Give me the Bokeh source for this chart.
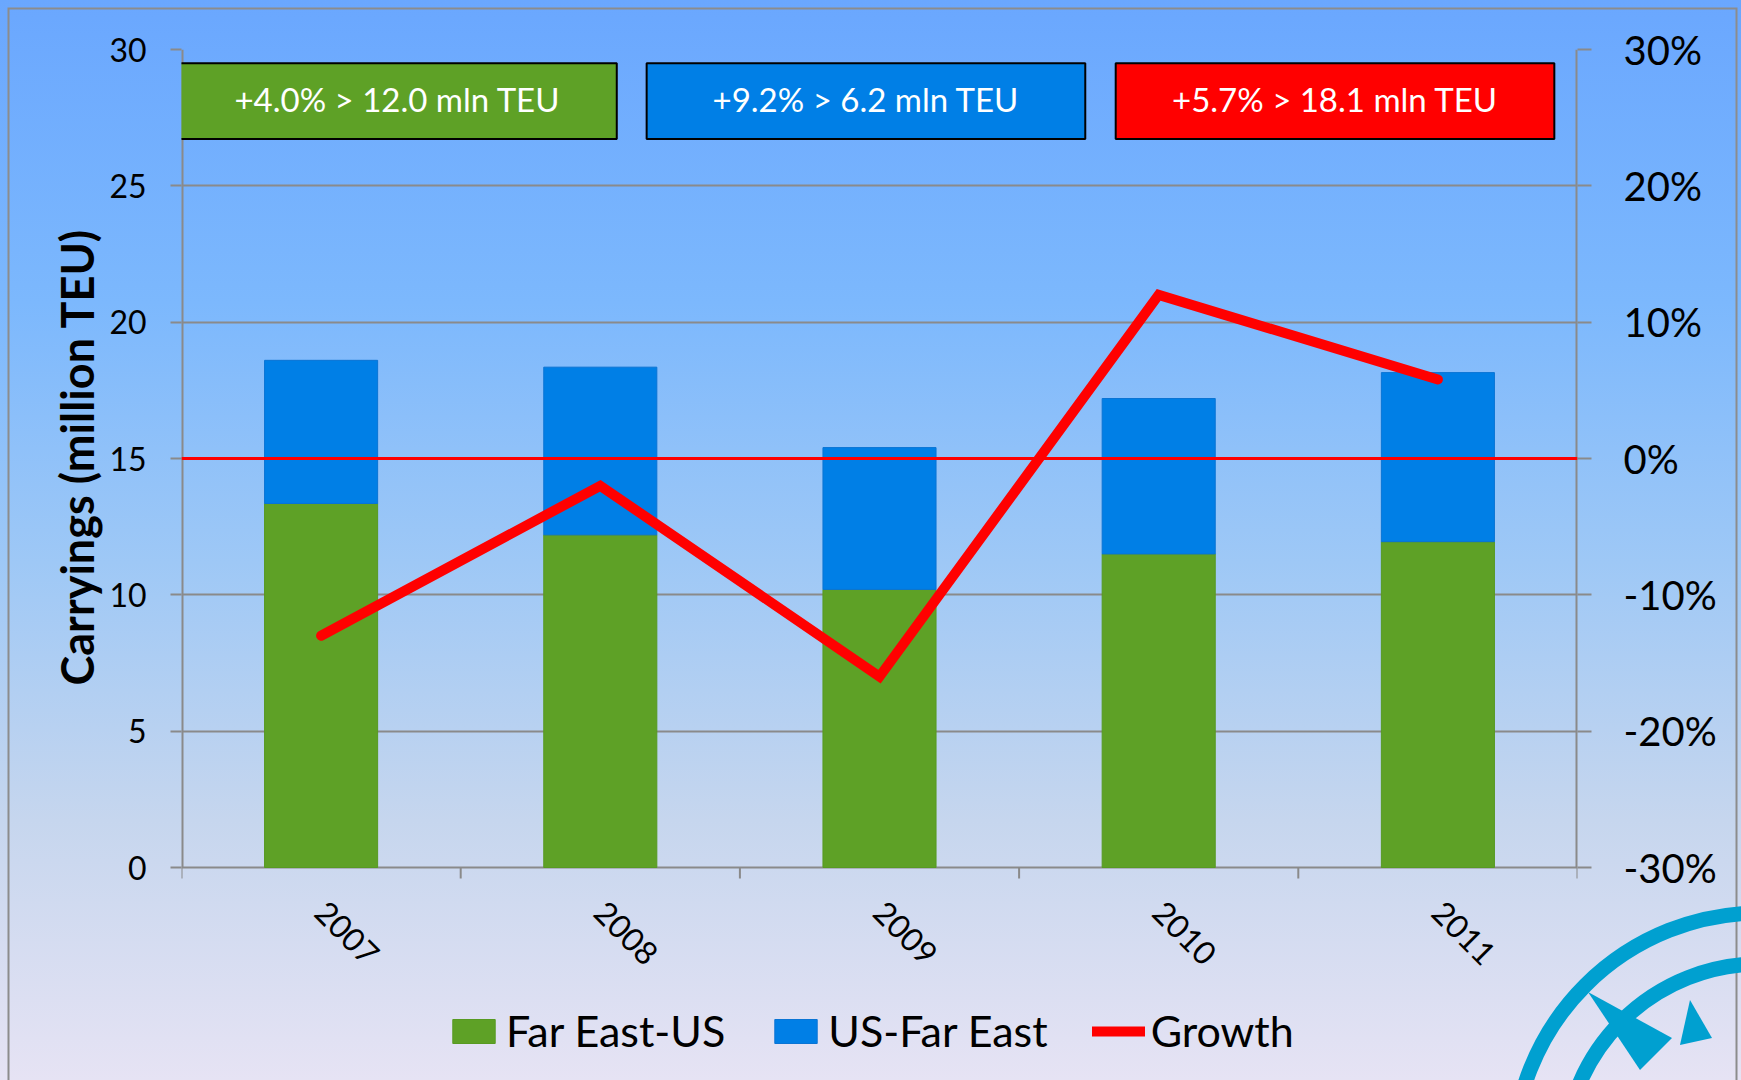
import math
from urllib.parse import quote
from bokeh.plotting import figure
from bokeh.models import (Range1d, LinearAxis, FixedTicker, PrintfTickFormatter, Span,
                          Legend, LegendItem, ColumnDataSource, Title)
from bokeh.core.properties import value
from bokeh.embed import file_html
from bokeh.resources import INLINE

# ---------------- data ----------------
years = ["2007", "2008", "2009", "2010", "2011"]
far_east_us = [13.35, 12.2, 10.2, 11.5, 11.95]   # million TEU
us_far_east = [5.25, 6.15, 5.2, 5.7, 6.2]        # million TEU
growth = [-13.0, -2.0, -16.0, 12.0, 5.8]         # % growth of total
series_names = ["Far East-US", "US-Far East", "Growth"]
y_title = "Carryings (million TEU)"
box_texts = ["+4.0% > 12.0 mln TEU", "+9.2% > 6.2 mln TEU", "+5.7% > 18.1 mln TEU"]
left_ticks = [0, 5, 10, 15, 20, 25, 30]
right_ticks = [-30, -20, -10, 0, 10, 20, 30]

# ---------------- style / layout ----------------
GREEN = "#5ea126"
BLUE = "#007fe6"
RED = "#ff0000"
GRID = "#8a8a8a"
FONT = "Lato"

PLOT_H = 818          # px height of the 0..30 chart area
EXTRA_H = 213         # px below the chart area (x labels + legend)
FRAME_W = 1396
L_MAX = left_ticks[-1]
L_MIN = left_ticks[0]
R_MIN, R_MAX = right_ticks[0], right_ticks[-1]
px_l = (L_MAX - L_MIN) / PLOT_H
px_r = (R_MAX - R_MIN) / PLOT_H
n = len(years)

x = [i + 0.5 for i in range(n)]
src = ColumnDataSource(dict(x=x, fe=far_east_us, us=us_far_east, growth=growth, year=years))

p = figure(frame_width=FRAME_W, frame_height=PLOT_H + EXTRA_H,
           x_range=Range1d(0, n), y_range=Range1d(L_MIN - EXTRA_H * px_l, L_MAX),
           output_backend="svg", toolbar_location=None,
           min_border_left=181, min_border_right=164, min_border_top=49, min_border_bottom=0,
           background_fill_alpha=0, border_fill_alpha=0, outline_line_color=None)
p.extra_y_ranges = {"g": Range1d(R_MIN - EXTRA_H * px_r, R_MAX)}

# grid
p.xgrid.visible = False
p.ygrid.ticker = FixedTicker(ticks=left_ticks)
p.ygrid.grid_line_color = GRID
p.ygrid.grid_line_width = 2

# bars
bars = p.vbar_stack(["fe", "us"], x="x", width=0.405, source=src,
                    fill_color=[GREEN, BLUE], line_color=["#579a22", "#0a74d4"], line_width=1)

# zero line of growth axis
p.add_layout(Span(location=0, dimension="width", y_range_name="g",
                  line_color=RED, line_width=3))

# growth line
gl = p.line("x", "growth", source=src, y_range_name="g", line_color=RED, line_width=10,
            line_join="miter", line_cap="round")

# vertical axis lines (only over the 0..30 span)
p.segment(x0=[0, n], y0=L_MIN, x1=[0, n], y1=L_MAX, line_color=GRID, line_width=4)

# category boundary ticks and year labels (Excel style category axis)
p.segment(x0=list(range(n + 1)), y0=L_MIN, x1=list(range(n + 1)), y1=L_MIN - 11 * px_l,
          line_color=GRID, line_width=2)
p.text(x="x", y=L_MIN - 39 * px_l, text="year", source=src, angle=-math.pi / 4,
       text_font=value(FONT), text_font_size="32px", text_color="black",
       text_align="left", text_baseline="middle")

# annotation boxes (layout constants)
box_left = [-0.012, 1.666, 3.346]
box_w = 1.571
box_colors = [GREEN, BLUE, RED]
p.quad(left=box_left, right=[b + box_w for b in box_left], top=29.5, bottom=26.72,
       fill_color=box_colors, line_color="black", line_width=2)
p.text(x=[b + box_w / 2 for b in box_left], y=28.2, text=box_texts,
       text_font=value(FONT), text_font_size="33px", text_color="white",
       text_align="center", text_baseline="middle")

# hidden default x axis
p.xaxis.visible = False

# left axis
ya = p.yaxis[0]
ya.ticker = FixedTicker(ticks=left_ticks)
ya.axis_line_color = None
ya.major_tick_line_color = GRID
ya.major_tick_line_width = 2
ya.major_tick_out = 11
ya.major_tick_in = 0
ya.minor_tick_line_color = None
ya.major_label_text_font = FONT
ya.major_label_text_font_size = "32px"
ya.major_label_text_color = "black"
ya.major_label_standoff = 24

# y axis title, centred on the 0..30 part of the axis
p.add_layout(Title(text=y_title, align="left", offset=395, text_font=FONT,
                   text_font_style="bold", text_font_size="45px", text_color="black",
                   standoff=6), "left")

# right axis
ra = LinearAxis(y_range_name="g", ticker=FixedTicker(ticks=right_ticks),
                formatter=PrintfTickFormatter(format="%d%%"))
ra.axis_line_color = None
ra.major_tick_line_color = GRID
ra.major_tick_line_width = 2
ra.major_tick_out = 14
ra.major_tick_in = 0
ra.minor_tick_line_color = None
ra.major_label_text_font = FONT
ra.major_label_text_font_size = "40px"
ra.major_label_text_color = "black"
ra.major_label_standoff = 32
p.add_layout(ra, "right")

# legend at the bottom (offset in px from lower-left corner of the drawing area)
legend = Legend(items=[LegendItem(label=series_names[0], renderers=[bars[0]]),
                       LegendItem(label=series_names[1], renderers=[bars[1]]),
                       LegendItem(label=series_names[2], renderers=[gl])],
                orientation="horizontal", location=(266, 24),
                label_text_font=FONT, label_text_font_size="43px", label_text_color="black",
                glyph_width=53, glyph_height=30, spacing=44, label_standoff=6,
                padding=0, margin=0, background_fill_alpha=0, border_line_alpha=0)
p.add_layout(legend, "center")

# ---------------- page ----------------
svg = ('<svg xmlns="http://www.w3.org/2000/svg" width="1741" height="1080">'
       '<rect x="8.5" y="8.5" width="1728" height="1200" fill="none" stroke="#8c8c8c" stroke-width="2"/>'
       '<circle cx="1760" cy="1160" r="247" fill="none" stroke="#00a0d0" stroke-width="15"/>'
       '<circle cx="1760" cy="1160" r="196" fill="none" stroke="#00a0d0" stroke-width="15"/>'
       '<polygon points="1588,992 1672,1038 1640,1070" fill="#00a0d0"/>'
       '<polygon points="1690,1000 1680,1045 1712,1038" fill="#00a0d0"/>'
       '</svg>')
css = ("<style>html{background:url(\"data:image/svg+xml;utf8," + quote(svg) + "\") 0 0/1741px 1080px no-repeat fixed,"
       "linear-gradient(180deg,#6aa7fe 0%,#7cb8fd 28%,#9ec8f6 52%,#c6d6ee 76%,#e6e3f4 100%) fixed;}"
       "body{background:transparent;}</style>")

html = file_html(p, INLINE, title="Transpacific carryings")
html = html.replace("</head>", css + "</head>", 1)
with open("out.html", "w") as f:
    f.write(html)
